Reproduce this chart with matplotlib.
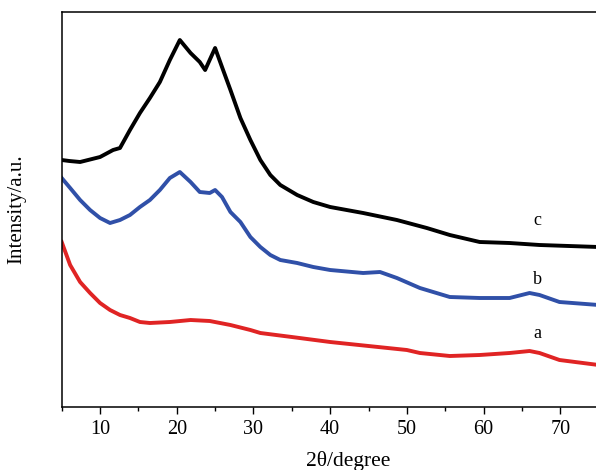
import matplotlib
matplotlib.use('Agg')
import matplotlib.pyplot as plt
from matplotlib.ticker import MultipleLocator

plt.rcParams['font.family'] = ['Liberation Serif', 'DejaVu Serif']

# Values (2theta in degree, intensity in arbitrary units)
x_c = [5, 6, 7.4, 10, 11.7, 12.6, 13.9, 15.2, 16.5, 17.8, 19.1, 20.4, 21.8, 23.0,
       23.7, 25.0, 25.9, 27.0, 28.3, 29.6, 30.9, 32.2, 33.5, 35.7, 37.8, 40.0,
       44.3, 48.7, 52.6, 55.6, 59.5, 63.4, 67.3, 75]
y_c = [247, 246, 245, 250, 257, 259, 277, 294, 309, 325, 347, 367, 354, 345,
       337, 359, 340, 317, 289, 267, 247, 232, 222, 212, 205, 200,
       194, 187, 179, 172, 165, 164, 162, 160]

x_b = [5, 6.1, 7.4, 8.7, 10, 11.3, 12.6, 13.9, 15.2, 16.5, 17.8, 19.1, 20.4, 21.8,
       23.0, 24.3, 25.0, 25.9, 27.0, 28.3, 29.6, 30.9, 32.2, 33.5, 35.7, 37.8,
       40.0, 44.3, 46.5, 48.7, 51.7, 55.6, 59.5, 63.4, 66.0, 67.3, 69.9, 75]
y_b = [229, 219, 207, 197, 189, 184, 187, 192, 200, 207, 217, 229, 235, 225,
       215, 214, 217, 210, 195, 185, 170, 160, 152, 147, 144, 140,
       137, 134, 135, 129, 119, 110, 109, 109, 114, 112, 105, 102]

x_a = [5, 6.1, 7.4, 8.7, 10, 11.3, 12.6, 13.9, 15.2, 16.5, 19.1, 21.8, 24.3, 27.0,
       29.6, 30.9, 35, 40, 45, 50, 51.7, 55.6, 59.5, 63.4, 66.0, 67.3, 69.9, 75]
y_a = [165, 142, 125, 114, 104, 97, 92, 89, 85, 84, 85, 87, 86, 82,
       77, 74, 70, 65, 61, 57, 54, 51, 52, 54, 56, 54, 47, 42]

series = [(x_a, y_a, '#e02424', 'a', 73),
          (x_b, y_b, '#3050a8', 'b', 128),
          (x_c, y_c, '#000000', 'c', 186)]

fig = plt.figure(figsize=(5.96, 4.70), dpi=100)
ax = fig.add_axes([61.7 / 596, 63 / 470, 536.9 / 596, 395 / 470])

for xs, ys, col, lab, ly in series:
    ax.plot(xs, ys, color=col, linewidth=2.8, solid_joinstyle='round')
    ax.text(67.0, ly, lab, fontsize=13, ha='center', va='center')

ax.set_xlim(5, 75)
ax.set_ylim(0, 395)
ax.xaxis.set_major_locator(MultipleLocator(10))
ax.xaxis.set_minor_locator(MultipleLocator(5))
ax.tick_params(axis='x', which='major', direction='out', length=5, width=1, labelsize=14.5, pad=4)
ax.tick_params(axis='x', which='minor', direction='out', length=3, width=1)
ax.set_yticks([])
ax.spines['right'].set_visible(False)
for s in ['left', 'bottom', 'top']:
    ax.spines[s].set_linewidth(1.1)

ax.set_xlabel('2θ/degree', fontsize=15.5)
ax.xaxis.set_label_coords(0.533, -0.112)
ax.set_ylabel('Intensity/a.u.', fontsize=15)
ax.yaxis.set_label_coords(-0.066, 0.5)

fig.savefig('out.png', dpi=100)
